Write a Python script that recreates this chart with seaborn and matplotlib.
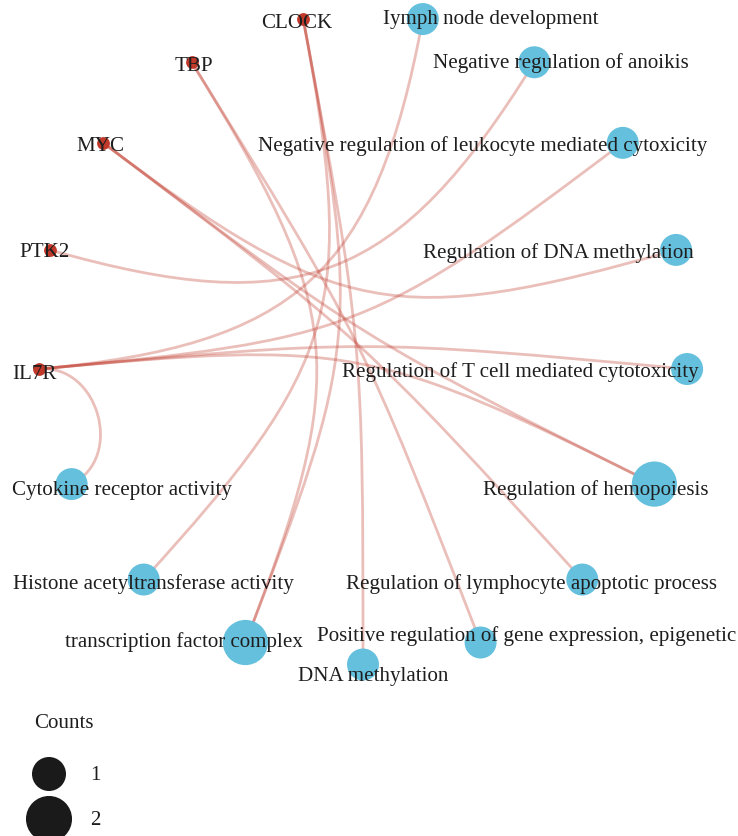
import numpy as np
import pandas as pd
import matplotlib
matplotlib.use("Agg")
import matplotlib.pyplot as plt
import seaborn as sns
from matplotlib.path import Path
from matplotlib.patches import PathPatch

# ---- data -------------------------------------------------------------
genes = ["CLOCK", "TBP", "MYC", "PTK2", "IL7R"]
terms = [
    "DNA methylation",
    "Positive regulation of gene expression, epigenetic",
    "Regulation of lymphocyte apoptotic process",
    "Regulation of hemopoiesis",
    "Regulation of T cell mediated cytotoxicity",
    "Regulation of DNA methylation",
    "Negative regulation of leukocyte mediated cytoxicity",
    "Negative regulation of anoikis",
    "Iymph node development",
    "Cytokine receptor activity",
    "Histone acetyltransferase activity",
    "transcription factor complex",
]
edge_genes = ["IL7R", "IL7R", "IL7R", "IL7R", "IL7R",
              "MYC", "MYC", "MYC",
              "TBP", "TBP",
              "CLOCK", "CLOCK", "CLOCK",
              "PTK2"]
edge_terms = ["Iymph node development",
              "Negative regulation of leukocyte mediated cytoxicity",
              "Regulation of T cell mediated cytotoxicity",
              "Regulation of hemopoiesis",
              "Cytokine receptor activity",
              "Regulation of hemopoiesis",
              "Regulation of lymphocyte apoptotic process",
              "Regulation of DNA methylation",
              "Positive regulation of gene expression, epigenetic",
              "transcription factor complex",
              "transcription factor complex",
              "Histone acetyltransferase activity",
              "DNA methylation",
              "Negative regulation of anoikis"]
legend_counts = [1, 2]

# ---- circular layout --------------------------------------------------
ring = terms[:9] + genes + terms[9:]
n = len(ring)
ang = np.deg2rad(-90 + np.arange(n) * 360.0 / n)
pos = {name: (np.cos(a), np.sin(a)) for name, a in zip(ring, ang)}

edges = pd.DataFrame({"gene": edge_genes, "term": edge_terms})
counts = edges.groupby("term").size()

term_df = pd.DataFrame({
    "name": terms,
    "x": [pos[t][0] for t in terms],
    "y": [pos[t][1] for t in terms],
    "count": [int(counts[t]) for t in terms],
})
gene_df = pd.DataFrame({
    "name": genes,
    "x": [pos[g][0] for g in genes],
    "y": [pos[g][1] for g in genes],
})

# label nudges in pixels (radius of the ring = PX pixels)
nudge_px = {
    "CLOCK": (-6, 0), "TBP": (2, 0), "MYC": (-3, 0), "PTK2": (-5, 1), "IL7R": (-4, -1),
    "Iymph node development": (68, 4),
    "Negative regulation of anoikis": (27, 3),
    "Negative regulation of leukocyte mediated cytoxicity": (-140, 1),
    "Regulation of DNA methylation": (-118, 1),
    "Regulation of T cell mediated cytotoxicity": (-167, 1),
    "Regulation of hemopoiesis": (-59, -2),
    "Regulation of lymphocyte apoptotic process": (-51, 0),
    "Positive regulation of gene expression, epigenetic": (46, 10),
    "DNA methylation": (10, -8),
    "transcription factor complex": (-61, 4),
    "Histone acetyltransferase activity": (10, 0),
    "Cytokine receptor activity": (50, -2),
}
TEXT_DROP = 3  # glyph box vs. visual centre
PX = 325.5
CX, CY = 363.0, 340.0
W, H = 738, 837

sns.set_theme(style="white")
plt.rcParams["font.family"] = ["Liberation Serif", "DejaVu Serif"]

fig = plt.figure(figsize=(W / 100, H / 100), dpi=100)
ax = fig.add_axes([0, 0, 1, 1])
ax.set_xlim(-CX / PX, (W - CX) / PX)
ax.set_ylim((CY - H) / PX, CY / PX)
ax.axis("off")

# ---- edges: cubic bezier bent toward the centre -----------------------
edge_color = "#c0392b"
for g, t in zip(edges["gene"], edges["term"]):
    p0 = np.array(pos[g])
    p3 = np.array(pos[t])
    d = np.linalg.norm(p3 - p0) / 2
    p1 = p0 * (1 - d)
    p2 = p3 * (1 - d)
    path = Path([p0, p1, p2, p3],
                [Path.MOVETO, Path.CURVE4, Path.CURVE4, Path.CURVE4])
    ax.add_patch(PathPatch(path, facecolor="none", edgecolor=edge_color,
                           alpha=0.32, lw=2.0, zorder=1))

# ---- nodes ------------------------------------------------------------
node_sizes = {1: 530, 2: 1060}
sns.scatterplot(data=term_df, x="x", y="y", size="count",
                sizes=node_sizes, color="#65c0dd", linewidth=0,
                legend=False, ax=ax, zorder=3)
sns.scatterplot(data=gene_df, x="x", y="y", color="#c0392b", s=85,
                linewidth=0, legend=False, ax=ax, zorder=3)
ax.set_xlabel("")
ax.set_ylabel("")

# ---- labels -----------------------------------------------------------
FS = 15.1
for name in ring:
    x, y = pos[name]
    dx, dy = nudge_px[name]
    ax.text(x + dx / PX, y + (dy - TEXT_DROP) / PX, name, ha="center",
            va="center", fontsize=FS, color="#1e1e1e", zorder=5)

# ---- size legend (drawn in a pixel-space overlay) ---------------------
lax = fig.add_axes([0, 0, 1, 1])
lax.set_xlim(0, W)
lax.set_ylim(H, 0)
lax.axis("off")
leg_x, leg_top, row_gap = 34, 724, 45
legend_sizes = {1: 600, 2: 1100}
lax.text(leg_x, leg_top, "Counts", ha="left", va="center", fontsize=FS,
         color="#1e1e1e")
leg_df = pd.DataFrame({
    "count": legend_counts,
    "x": leg_x + 15,
    "y": [leg_top + 51 + row_gap * i for i in range(len(legend_counts))],
})
sns.scatterplot(data=leg_df, x="x", y="y", size="count", sizes=legend_sizes,
                color="#1a1a1a", linewidth=0, legend=False, ax=lax)
lax.set_xlabel("")
lax.set_ylabel("")
lax.set_xlim(0, W)
lax.set_ylim(H, 0)
for c, yy in zip(leg_df["count"], leg_df["y"]):
    lax.text(leg_x + 56, yy + 1, str(c), ha="left", va="center",
             fontsize=FS, color="#1e1e1e")

fig.savefig("out.png", dpi=100, facecolor="white")
